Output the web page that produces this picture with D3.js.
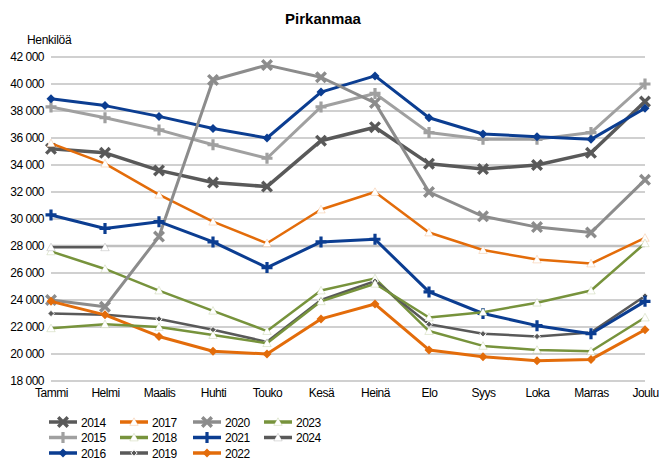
<!DOCTYPE html>
<html>
<head>
<meta charset="utf-8">
<script src="https://cdn.jsdelivr.net/npm/d3@7"></script>
<style>
  body { margin: 0; background: #fff; }
  svg { font-family: "Liberation Sans", Arial, sans-serif; }
</style>
</head>
<body>
<svg id="chart" width="661" height="461"></svg>
<script>
'use strict';

var months = ["Tammi", "Helmi", "Maalis", "Huhti", "Touko", "Kesä", "Heinä", "Elo", "Syys", "Loka", "Marras", "Joulu"];
var yTicks = [18000, 20000, 22000, 24000, 26000, 28000, 30000, 32000, 34000, 36000, 38000, 40000, 42000];

var v2014 = [35200, 34900, 33600, 32700, 32400, 35800, 36800, 34100, 33700, 34000, 34900, 38700];
var v2015 = [38300, 37500, 36600, 35500, 34500, 38300, 39300, 36400, 35900, 35900, 36400, 40000];
var v2016 = [38900, 38400, 37600, 36700, 36000, 39400, 40600, 37500, 36300, 36100, 35900, 38200];
var v2017 = [35600, 34100, 31800, 29800, 28200, 30700, 32000, 29000, 27700, 27000, 26700, 28600];
var v2018 = [27600, 26300, 24700, 23200, 21700, 24700, 25600, 21700, 20600, 20300, 20200, 22700];
var v2019 = [23000, 22900, 22600, 21800, 20900, 24000, 25400, 22200, 21500, 21300, 21600, 24300];
var v2020 = [24000, 23500, 28700, 40300, 41400, 40500, 38600, 32000, 30200, 29400, 29000, 32900];
var v2021 = [30300, 29300, 29800, 28300, 26400, 28300, 28500, 24600, 23000, 22100, 21500, 23900];
var v2022 = [23900, 22900, 21300, 20200, 20000, 22600, 23700, 20300, 19800, 19500, 19600, 21800];
var v2023 = [21900, 22200, 22000, 21400, 20800, 23900, 25200, 22700, 23100, 23800, 24700, 28200];
var v2024 = [27900, 27900];

var years = ["2014", "2015", "2016", "2017", "2018", "2019", "2020", "2021", "2022", "2023", "2024"];
var values = [v2014, v2015, v2016, v2017, v2018, v2019, v2020, v2021, v2022, v2023, v2024];

// look of each series (colour, line width, marker)
var looks = [
  { color: "#595959", width: 3.5, marker: "x" },
  { color: "#a0a0a0", width: 3, marker: "plus" },
  { color: "#0b3d91", width: 3, marker: "diamond" },
  { color: "#e36c0a", width: 2.5, marker: "tri" },
  { color: "#77933c", width: 2.5, marker: "tri" },
  { color: "#595959", width: 2.5, marker: "small" },
  { color: "#8c8c8c", width: 3, marker: "x" },
  { color: "#0b3d91", width: 3, marker: "plus" },
  { color: "#e36c0a", width: 3, marker: "diamond" },
  { color: "#77933c", width: 2.5, marker: "tri" },
  { color: "#595959", width: 2.5, marker: "tri" }
];

var svg = d3.select("#chart");

var x = d3.scalePoint().domain(months).range([51, 645]).padding(0);
var y = d3.scaleLinear().domain([18000, 42000]).range([381, 57]);

svg.append("text")
   .attr("x", 323).attr("y", 24)
   .attr("text-anchor", "middle")
   .attr("font-size", 15).attr("font-weight", "bold")
   .attr("fill", "#000")
   .text("Pirkanmaa");

svg.append("text")
   .attr("x", 27).attr("y", 44)
   .attr("font-size", 12).attr("fill", "#000")
   .attr("letter-spacing", -0.3)
   .text("Henkilöä");

// gridlines
svg.append("g").selectAll("line")
   .data(yTicks)
   .enter().append("line")
   .attr("x1", 51).attr("x2", 645)
   .attr("y1", function(d) { return y(d); })
   .attr("y2", function(d) { return y(d); })
   .attr("stroke", "#c0c0c0")
   .attr("stroke-width", function(d) { return d == 28000 ? 2.5 : 1.3; });

var yAxis = svg.append("g")
   .attr("transform", "translate(44,0)")
   .call(d3.axisLeft(y).tickValues(yTicks).tickSize(0).tickPadding(0)
     .tickFormat(function(d) { return d3.format(",")(d).replace(",", " "); }));
yAxis.select(".domain").remove();
yAxis.selectAll("text")
   .attr("font-size", 12).attr("letter-spacing", -0.5)
   .attr("fill", "#000").attr("font-family", "Liberation Sans, Arial, sans-serif");

var xAxis = svg.append("g")
   .attr("transform", "translate(0,388)")
   .call(d3.axisBottom(x).tickSize(0).tickPadding(0));
xAxis.select(".domain").remove();
xAxis.selectAll("text")
   .attr("font-size", 12).attr("letter-spacing", -0.5)
   .attr("fill", "#000").attr("font-family", "Liberation Sans, Arial, sans-serif");

function drawMarker(g, kind, color, cx, cy) {
  if (kind == "x") {
    var s = 4.8;
    g.append("path")
     .attr("d", "M" + (cx - s) + "," + (cy - s) + "L" + (cx + s) + "," + (cy + s) +
                "M" + (cx - s) + "," + (cy + s) + "L" + (cx + s) + "," + (cy - s))
     .attr("stroke", color).attr("stroke-width", 3.4).attr("fill", "none");
  } else if (kind == "plus") {
    var p = 5.5;
    g.append("path")
     .attr("d", "M" + (cx - p) + "," + cy + "L" + (cx + p) + "," + cy +
                "M" + cx + "," + (cy - p) + "L" + cx + "," + (cy + p))
     .attr("stroke", color).attr("stroke-width", 3.2).attr("fill", "none");
  } else if (kind == "diamond") {
    var d = 4.5;
    g.append("path")
     .attr("d", "M" + cx + "," + (cy - d) + "L" + (cx + d) + "," + cy + "L" + cx + "," + (cy + d) + "L" + (cx - d) + "," + cy + "Z")
     .attr("fill", color);
  } else if (kind == "small") {
    var m = 3.2;
    g.append("path")
     .attr("d", "M" + cx + "," + (cy - m) + "L" + (cx + m) + "," + cy + "L" + cx + "," + (cy + m) + "L" + (cx - m) + "," + cy + "Z")
     .attr("fill", color).attr("stroke", "#fff").attr("stroke-width", 1);
  } else if (kind == "tri") {
    var t = 4.2;
    g.append("path")
     .attr("d", "M" + cx + "," + (cy - t) + "L" + (cx + t) + "," + (cy + t * 0.8) + "L" + (cx - t) + "," + (cy + t * 0.8) + "Z")
     .attr("fill", "#fff").attr("stroke", color).attr("stroke-opacity", 0.35).attr("stroke-width", 0.6);
  }
}

var line = d3.line()
   .x(function(d, i) { return x(months[i]); })
   .y(function(d) { return y(d); });

$each(values, function(i, vals) {
  var look = looks[i];
  var g = svg.append("g");
  g.append("path")
   .attr("d", line(vals))
   .attr("fill", "none")
   .attr("stroke", look.color)
   .attr("stroke-width", look.width)
   .attr("stroke-linejoin", "round");
  vals.forEach(function(v, j) {
    drawMarker(g, look.marker, look.color, x(months[j]), y(v));
  });
});

// legend: four columns, filled top to bottom
var colX = [49, 120, 193, 264];
var rowY = [422, 437.5, 453];
$each(years, function(i, yr) {
  var look = looks[i];
  var lx = colX[Math.floor(i / 3)];
  var ly = rowY[i % 3];
  var g = svg.append("g");
  g.append("line")
   .attr("x1", lx).attr("x2", lx + 28)
   .attr("y1", ly).attr("y2", ly)
   .attr("stroke", look.color).attr("stroke-width", 3.5);
  drawMarker(g, look.marker, look.color, lx + 14, ly);
  g.append("text")
   .attr("x", lx + 32).attr("y", ly + 4.5)
   .attr("font-size", 12).attr("letter-spacing", -0.5)
   .attr("fill", "#000")
   .text(yr);
});

function $each(arr, fn) {
  arr.forEach(function(v, i) { fn(i, v); });
}
</script>
</body>
</html>
